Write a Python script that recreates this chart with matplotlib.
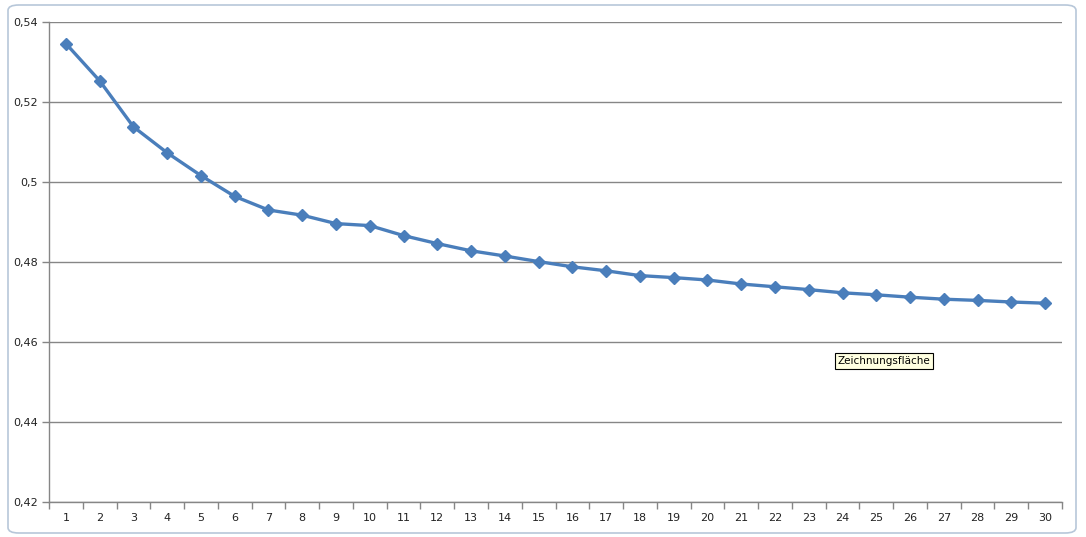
import numpy as np
import matplotlib
matplotlib.use("Agg")
import matplotlib.pyplot as plt
from matplotlib.patches import FancyBboxPatch
from matplotlib.ticker import FixedLocator, NullFormatter

# values
categories = [str(i) for i in range(1, 31)]
values = [0.5346, 0.5253, 0.5138, 0.5073, 0.5016, 0.4964, 0.4930, 0.4917,
          0.4896, 0.4891, 0.4866, 0.4846, 0.4828, 0.4815, 0.4801, 0.4788,
          0.4778, 0.4766, 0.4761, 0.4755, 0.4745, 0.4738, 0.4731, 0.4723,
          0.4718, 0.4712, 0.4707, 0.4704, 0.4700, 0.4697]
y_ticks = [0.42, 0.44, 0.46, 0.48, 0.50, 0.52, 0.54]
y_labels = ["0,42", "0,44", "0,46", "0,48", "0,5", "0,52", "0,54"]

plt.rcParams['font.family'] = ['DejaVu Sans']

fig = plt.figure(figsize=(10.86, 5.37), dpi=100)
ax = fig.add_axes([49 / 1086, 1 - 502 / 537, (1062 - 49) / 1086, (502 - 22) / 537])

x = np.arange(len(categories))
ax.plot(x, values, color='#4a7ebb', linewidth=2.4, marker='D', markersize=6.5,
        markeredgecolor='#4a7ebb', markerfacecolor='#4a7ebb', zorder=3)

ax.set_xlim(-0.5, len(categories) - 0.5)
ax.set_ylim(0.42, 0.54)

ax.set_yticks(y_ticks)
ax.set_yticklabels(y_labels)
ax.yaxis.grid(True, color='#868686', linewidth=1.0)
ax.set_axisbelow(True)

# category labels centred, tick marks on the category boundaries
ax.xaxis.set_major_locator(FixedLocator(x))
ax.set_xticklabels(categories)
ax.tick_params(axis='x', which='major', length=0, pad=8)
ax.xaxis.set_minor_locator(FixedLocator(np.arange(-0.5, len(categories), 1.0)))
ax.xaxis.set_minor_formatter(NullFormatter())
ax.tick_params(axis='x', which='minor', length=5, color='#868686', width=1.0)
ax.tick_params(axis='y', length=5, color='#868686', width=1.0, pad=3)
ax.tick_params(labelsize=8, labelcolor='#222222')

for side in ['top', 'right']:
    ax.spines[side].set_visible(False)
for side in ['left', 'bottom']:
    ax.spines[side].set_color('#868686')
    ax.spines[side].set_linewidth(1.0)

# outer chart frame
frame = FancyBboxPatch((8 / 1086, 4 / 537), 1068 / 1086, 528 / 537,
                       boxstyle="round,pad=0,rounding_size=0.01",
                       transform=fig.transFigure, fill=False,
                       edgecolor='#b7c7d9', linewidth=1.2)
fig.patches.append(frame)

# hover tooltip
fig.text(884 / 1086, 1 - 361 / 537, "Zeichnungsfläche", fontsize=7.5,
         ha='center', va='center', color='black',
         bbox=dict(boxstyle='square,pad=0.25', facecolor='#ffffe1',
                   edgecolor='black', linewidth=0.8))

fig.savefig("out.png", dpi=100, facecolor='white')
